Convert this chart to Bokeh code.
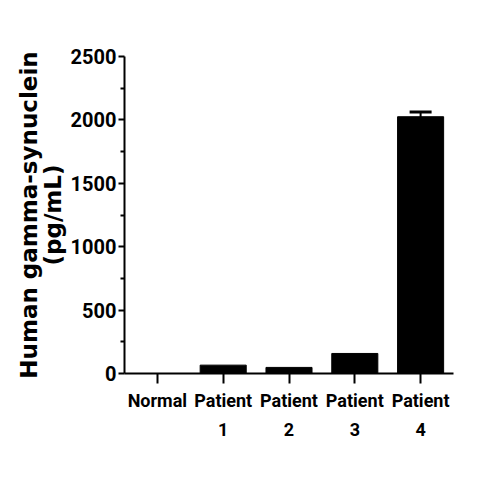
from bokeh.plotting import figure
from bokeh.models import Range1d, ColumnDataSource, Whisker, TeeHead, FixedTicker
from bokeh.embed import file_html
from bokeh.resources import INLINE

groups = ["Normal", "Patient 1", "Patient 2", "Patient 3", "Patient 4"]
tick_labels = ["Normal", "Patient\n1", "Patient\n2", "Patient\n3", "Patient\n4"]
values = [0, 66, 48, 158, 2025]
errors = [0, 0, 0, 0, 38]
y_ticks = [0, 500, 1000, 1500, 2000, 2500]
y_minor = [250, 750, 1250, 1750, 2250]

xs = list(range(len(groups)))
src = ColumnDataSource(dict(x=xs, top=values))
err_idx = [i for i, e in enumerate(errors) if e > 0]
esrc = ColumnDataSource(dict(
    x=[xs[i] for i in err_idx],
    upper=[values[i] + errors[i] for i in err_idx],
    lower=[values[i] - errors[i] for i in err_idx],
))

p = figure(width=488, height=463, output_backend="svg", toolbar_location=None,
           x_range=Range1d(-0.5, len(groups) - 0.5), y_range=Range1d(0, 2500),
           min_border_left=124, min_border_right=35, min_border_top=56, min_border_bottom=90)
p.outline_line_color = None
p.grid.grid_line_color = None
p.background_fill_color = "white"
p.border_fill_color = "white"

p.vbar(x="x", top="top", width=0.7, source=src, fill_color="black", line_color="black")
w = Whisker(base="x", upper="upper", lower="lower", source=esrc,
            line_color="black", line_width=2,
            upper_head=TeeHead(size=22, line_color="black", line_width=3),
            lower_head=TeeHead(size=22, line_color="black", line_width=3))
p.add_layout(w)

font = "Roboto"
p.yaxis.ticker = FixedTicker(ticks=y_ticks, minor_ticks=y_minor)
p.yaxis.axis_label = "Human gamma-synuclein\n(pg/mL)"
p.yaxis.axis_label_text_font = "DejaVu Sans"
p.yaxis.axis_label_text_font_style = "bold"
p.yaxis.axis_label_text_font_size = "23px"
p.yaxis.axis_label_text_color = "black"
p.yaxis.axis_label_standoff = 2
p.yaxis.axis_label_text_line_height = 0.9

p.xaxis.ticker = FixedTicker(ticks=xs, minor_ticks=[])
p.xaxis.major_label_overrides = {i: t for i, t in zip(xs, tick_labels)}

for ax in (p.xaxis, p.yaxis):
    ax.axis_line_width = 2
    ax.axis_line_color = "black"
    ax.major_tick_line_width = 2
    ax.major_tick_line_color = "black"
    ax.minor_tick_line_width = 2
    ax.minor_tick_line_color = "black"
    ax.major_tick_in = 0
    ax.minor_tick_in = 0
    ax.major_label_text_font = font
    ax.major_label_text_font_style = "bold"
    ax.major_label_text_color = "black"

p.yaxis.major_label_text_font_size = "20px"
p.xaxis.major_label_text_font_size = "18px"
p.yaxis.major_tick_out = 6
p.yaxis.minor_tick_out = 4
p.yaxis.major_label_standoff = 2
p.xaxis.major_tick_out = 10
p.xaxis.major_label_standoff = 6
p.xaxis.major_label_text_line_height = 1.4

open("out.html", "w").write(file_html(p, INLINE))
